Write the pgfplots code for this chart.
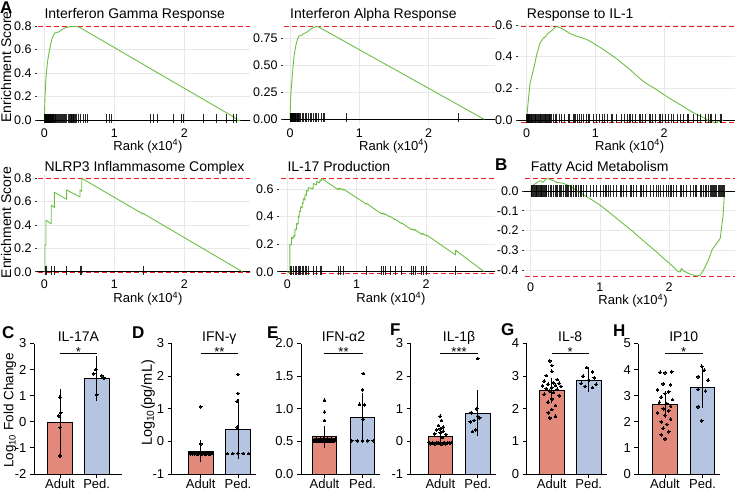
\documentclass[border=0pt]{standalone}
\usepackage{fontspec}
\setmainfont{Liberation Sans}
\usepackage{pgfplots}
\pgfplotsset{compat=1.18}

\definecolor{esgreen}{RGB}{108,190,69}
\definecolor{dashred}{RGB}{232,30,36}
\definecolor{gridc}{RGB}{232,232,232}
\definecolor{adultc}{RGB}{226,137,124}
\definecolor{pedc}{RGB}{181,196,224}

\pgfplotsset{
  gsea/.style={
    scale only axis, anchor=south west,
    axis line style={draw=none},
    grid=major, grid style={draw=gridc, line width=0.7pt},
    xtick={0,1,2}, xticklabels={0,1,2},
    xtick style={draw=none},
    ytick style={draw=black!80, line width=0.6pt},
    tick align=outside, major tick length=2pt,
    ytick pos=left, xtick pos=bottom,
    tick label style={font=\fontsize{12.5}{14}\selectfont},
    xticklabel style={inner sep=1.5pt},
    clip=true,
  },
  esline/.style={esgreen, line width=0.9pt, line join=round},
  hits/.style={only marks, mark=|, mark size=4.7pt, opacity=0.85, mark options={draw=black, line width=0.55pt, yshift=#1}},
  hits/.default=1.5pt,
  redd/.style={dashred, line width=0.9pt, dash pattern=on 5pt off 3pt},
  zline/.style={black, line width=0.9pt},
  bars/.style={
    scale only axis, anchor=south west,
    axis x line*=bottom, axis y line*=left,
    axis line style={line width=0.9pt, -},
    tick style={black, line width=0.9pt},
    tick align=outside, major tick length=4pt,
    xtick={0,1}, xticklabels={Adult,Ped.},
    tick label style={font=\fontsize{13}{15}\selectfont},
    xticklabel style={inner sep=1pt},
    clip=false, height=130.5pt,
  },
  abar/.style={fill=adultc, draw=black, line width=0.8pt},
  pbar/.style={fill=pedc, draw=black, line width=0.8pt},
  dots/.style={only marks, mark=*, mark size=1.35pt, mark options={fill=black, draw=black, line width=0pt}},
  ebar/.style={draw=none, mark=none, error bars/.cd, y dir=both, y explicit, error bar style={draw=black, line width=0.8pt}, error mark options={draw=black, line width=0.8pt, mark size=6pt}},
}
\newcommand{\sig}[2]{%
  \draw[line width=0.8pt] (axis cs:0,#1) -- (axis cs:1,#1);
  \node[font=\fontsize{13}{13}\selectfont, anchor=base, inner sep=0pt, yshift=-3pt] at (axis cs:0.5,#1) {#2};}

\begin{document}
\begin{tikzpicture}[x=1pt,y=1pt]
\useasboundingbox (0,0) rectangle (735,491);

% ---------- Panel A1: Interferon Gamma Response
\begin{axis}[gsea, at={(37pt,366pt)}, width=213pt, height=102pt,
  xmin=-0.104, xmax=2.939, ymin=-0.0426, ymax=0.8255,
  ytick={0,0.2,0.4,0.6,0.8}, yticklabels={0.0,0.2,0.4,0.6,0.8}]
\addplot[redd] coordinates {(-0.2,0.797) (3.1,0.797)};
\addplot[redd] coordinates {(-0.2,-0.008) (3.1,-0.008)};
\addplot[zline] coordinates {(-0.2,0) (3.1,0)};
\addplot[hits] coordinates {(0.003,0)(0.008,0)(0.012,0)(0.017,0)(0.021,0)(0.026,0)(0.03,0)(0.035,0)(0.04,0)(0.045,0)(0.05,0)(0.056,0)(0.062,0)(0.068,0)(0.074,0)(0.08,0)(0.087,0)(0.094,0)(0.101,0)(0.108,0)(0.115,0)(0.123,0)(0.131,0)(0.14,0)(0.15,0)(0.16,0)(0.172,0)(0.185,0)(0.2,0)(0.21,0)(0.225,0)(0.24,0)(0.255,0)(0.27,0)(0.29,0)(0.3,0)(0.32,0)(0.34,0)(0.36,0)(0.37,0)(0.38,0)(0.39,0)(0.4,0)(0.41,0)(0.42,0)(0.43,0)(0.44,0)(0.46,0)(0.49,0)(0.51,0)(0.55,0)(0.59,0)(0.62,0)(0.89,0)(0.93,0)(0.95,0)(1.52,0)(1.56,0)(1.61,0)(1.84,0)(1.96,0)(1.99,0)(2.27,0)(2.46,0)(2.6,0)(2.7,0)(2.74,0)};
\addplot[esline] coordinates {(0,0)(0.005,0.1)(0.01,0.2)(0.02,0.32)(0.03,0.4)(0.04,0.46)(0.05,0.51)(0.07,0.58)(0.09,0.64)(0.11,0.69)(0.13,0.72)(0.15,0.74)(0.18,0.745)(0.21,0.75)(0.24,0.765)(0.27,0.775)(0.3,0.785)(0.33,0.79)(0.36,0.793)(0.4,0.795)(0.44,0.797)(0.5,0.79)(1.0,0.617)(1.5,0.443)(2.0,0.27)(2.5,0.097)(2.7,0.028)(2.74,0.01)(2.77,-0.008)(2.8,0)};
\end{axis}

% ---------- Panel A2: Interferon Alpha Response
\begin{axis}[gsea, at={(283pt,366pt)}, width=212pt, height=102pt,
  xmin=-0.101, xmax=2.958, ymin=-0.0528, ymax=0.8917,
  ytick={0,0.25,0.5,0.75}, yticklabels={0.00,0.25,0.50,0.75}]
\addplot[redd] coordinates {(-0.2,0.86) (3.1,0.86)};
\addplot[redd] coordinates {(-0.2,-0.003) (3.1,-0.003)};
\addplot[zline] coordinates {(-0.2,0) (3.1,0)};
\addplot[hits] coordinates {(0.003,0)(0.008,0)(0.013,0)(0.018,0)(0.023,0)(0.028,0)(0.033,0)(0.038,0)(0.044,0)(0.05,0)(0.056,0)(0.062,0)(0.069,0)(0.076,0)(0.083,0)(0.09,0)(0.098,0)(0.106,0)(0.115,0)(0.125,0)(0.135,0)(0.145,0)(0.17,0)(0.19,0)(0.22,0)(0.24,0)(0.26,0)(0.29,0)(0.31,0)(0.34,0)(0.36,0)(0.38,0)(0.41,0)(0.45,0)(0.48,0)(0.5,0)(0.81,0)(2.43,0)};
\addplot[esline] coordinates {(0,0)(0.005,0.1)(0.01,0.2)(0.02,0.3)(0.03,0.38)(0.045,0.5)(0.06,0.59)(0.075,0.65)(0.09,0.7)(0.11,0.745)(0.13,0.77)(0.15,0.775)(0.17,0.78)(0.19,0.79)(0.22,0.8)(0.25,0.81)(0.28,0.825)(0.31,0.84)(0.34,0.85)(0.37,0.858)(0.4,0.86)(0.5,0.824)(0.81,0.713)(1.5,0.466)(2.0,0.287)(2.43,0.133)(2.6,0.072)(2.8,0)};
\end{axis}

% ---------- Panel A3: Response to IL-1
\begin{axis}[gsea, at={(518pt,366pt)}, width=217pt, height=102pt,
  xmin=-0.1266, xmax=3.032, ymin=-0.0316, ymax=0.6127,
  ytick={0,0.2,0.4,0.6}, yticklabels={0.0,0.2,0.4,0.6}]
\addplot[redd] coordinates {(-0.2,0.59) (3.1,0.59)};
\addplot[redd] coordinates {(-0.2,-0.017) (3.1,-0.017)};
\addplot[zline] coordinates {(-0.2,0) (3.1,0)};
\addplot[hits] coordinates {(0,0)(0.005,0)(0.01,0)(0.014,0)(0.02,0)(0.029,0)(0.035,0)(0.043,0)(0.05,0)(0.06,0)(0.072,0)(0.085,0)(0.096,0)(0.105,0)(0.12,0)(0.13,0)(0.144,0)(0.155,0)(0.168,0)(0.18,0)(0.192,0)(0.2,0)(0.207,0)(0.226,0)(0.24,0)(0.25,0)(0.264,0)(0.275,0)(0.288,0)(0.3,0)(0.313,0)(0.327,0)(0.335,0)(0.346,0)(0.361,0)(0.385,0)(0.409,0)(0.433,0)(0.481,0)(0.505,0)(0.553,0)(0.601,0)(0.625,0)(0.673,0)(0.697,0)(0.712,0)(0.731,0)(0.769,0)(0.793,0)(0.817,0)(0.865,0)(0.889,0)(0.913,0)(0.962,0)(1.01,0)(1.058,0)(1.106,0)(1.13,0)(1.178,0)(1.226,0)(1.25,0)(1.298,0)(1.37,0)(1.418,0)(1.466,0)(1.49,0)(1.514,0)(1.538,0)(1.587,0)(1.635,0)(1.659,0)(1.683,0)(1.731,0)(1.779,0)(1.803,0)(1.827,0)(1.875,0)(1.923,0)(1.947,0)(1.971,0)(2.019,0)(2.067,0)(2.106,0)(2.139,0)(2.188,0)(2.236,0)(2.284,0)(2.332,0)(2.356,0)(2.428,0)(2.476,0)(2.524,0)(2.596,0)(2.644,0)(2.668,0)(2.683,0)(2.74,0)(2.813,0)(2.837,0)};
\addplot[esline] coordinates {(0,0)(0.01,0.06)(0.024,0.126)(0.048,0.23)(0.07,0.27)(0.096,0.316)(0.12,0.36)(0.144,0.41)(0.17,0.45)(0.19,0.484)(0.215,0.5)(0.24,0.516)(0.27,0.525)(0.31,0.547)(0.35,0.56)(0.385,0.573)(0.43,0.59)(0.47,0.585)(0.5,0.58)(0.56,0.565)(0.625,0.547)(0.72,0.53)(0.8,0.52)(0.865,0.51)(0.94,0.493)(1.01,0.474)(1.1,0.45)(1.2,0.42)(1.3,0.39)(1.39,0.358)(1.5,0.32)(1.59,0.284)(1.68,0.25)(1.78,0.22)(1.88,0.195)(1.97,0.168)(2.06,0.142)(2.16,0.116)(2.26,0.09)(2.36,0.063)(2.45,0.04)(2.55,0.021)(2.64,-0.004)(2.74,-0.017)(2.8,-0.01)(2.86,0)};
\end{axis}

% ---------- Panel A4: NLRP3 Inflammasome Complex
\begin{axis}[gsea, at={(37pt,215pt)}, width=213pt, height=102pt,
  xmin=-0.104, xmax=2.939, ymin=-0.0368, ymax=0.837,
  ytick={0,0.2,0.4,0.6,0.8}, yticklabels={0.0,0.2,0.4,0.6,0.8}]
\addplot[redd] coordinates {(-0.2,0.80) (3.1,0.80)};
\addplot[redd] coordinates {(-0.2,-0.006) (3.1,-0.006)};
\addplot[zline] coordinates {(-0.2,0) (3.1,0)};
\addplot[hits] coordinates {(0.01,0)(0.025,0)(0.1,0)(0.145,0)(0.32,0)(0.51,0)(0.535,0)(1.41,0)};
\addplot[esline] coordinates {(0,0)(0.01,0)(0.01,0.23)(0.025,0.23)(0.025,0.44)(0.1,0.41)(0.1,0.57)(0.145,0.55)(0.145,0.68)(0.32,0.62)(0.32,0.70)(0.51,0.64)(0.51,0.70)(0.535,0.69)(0.535,0.80)(1.41,0.494)(1.41,0.50)(2.83,0)};
\end{axis}

% ---------- Panel A5: IL-17 Production
\begin{axis}[gsea, at={(279pt,215pt)}, width=216pt, height=102pt,
  xmin=-0.1197, xmax=2.995, ymin=-0.0312, ymax=0.709,
  ytick={0,0.2,0.4,0.6}, yticklabels={0.0,0.2,0.4,0.6}]
\addplot[redd] coordinates {(-0.2,0.677) (3.1,0.677)};
\addplot[redd] coordinates {(-0.2,-0.012) (3.1,-0.012)};
\addplot[zline] coordinates {(-0.2,0) (3.1,0)};
\addplot[hits] coordinates {(0.038,0)(0.063,0)(0.087,0)(0.111,0)(0.135,0)(0.159,0)(0.173,0)(0.192,0)(0.216,0)(0.231,0)(0.255,0)(0.279,0)(0.303,0)(0.375,0)(0.423,0)(0.471,0)(0.495,0)(0.736,0)(0.76,0)(0.808,0)(1.144,0)(1.361,0)(1.385,0)(1.409,0)(1.481,0)(1.553,0)(1.649,0)(1.793,0)(1.817,0)(1.841,0)(1.938,0)(1.962,0)(2.01,0)(2.428,0)};
\addplot[esline] coordinates {(0,0)(0.035,-0.01)(0.038,0.2)(0.06,0.195)(0.063,0.25)(0.085,0.24)(0.087,0.26)(0.108,0.255)(0.111,0.31)(0.133,0.305)(0.135,0.35)(0.157,0.345)(0.159,0.40)(0.17,0.395)(0.173,0.44)(0.19,0.435)(0.192,0.47)(0.214,0.465)(0.216,0.5)(0.229,0.495)(0.231,0.53)(0.253,0.52)(0.255,0.56)(0.277,0.555)(0.279,0.59)(0.30,0.585)(0.303,0.61)(0.372,0.6)(0.375,0.64)(0.42,0.63)(0.423,0.655)(0.468,0.645)(0.471,0.665)(0.492,0.66)(0.495,0.677)(0.733,0.595)(0.736,0.605)(0.757,0.598)(0.76,0.607)(0.805,0.592)(0.808,0.60)(1.141,0.49)(1.144,0.495)(1.358,0.42)(1.361,0.425)(1.382,0.418)(1.385,0.423)(1.406,0.416)(1.409,0.42)(1.478,0.398)(1.481,0.402)(1.55,0.378)(1.553,0.382)(1.646,0.35)(1.649,0.354)(1.79,0.305)(1.793,0.31)(1.814,0.303)(1.817,0.308)(1.838,0.3)(1.841,0.305)(1.935,0.272)(1.938,0.278)(1.959,0.27)(1.962,0.276)(2.007,0.26)(2.01,0.266)(2.425,0.122)(2.428,0.155)(2.84,0)};
\end{axis}

% ---------- Panel B: Fatty Acid Metabolism
\begin{axis}[gsea, at={(524pt,211pt)}, width=211pt, height=106pt,
  xmin=-0.0969, xmax=2.954, ymin=-0.4506, ymax=0.0861,
  ytick={-0.4,-0.3,-0.2,-0.1,0}, yticklabels={-0.4,-0.3,-0.2,-0.1,0.0},
  xticklabel style={inner sep=0.5pt}]
\addplot[redd] coordinates {(-0.2,0.064) (3.1,0.064)};
\addplot[redd] coordinates {(-0.2,-0.432) (3.1,-0.432)};
\addplot[zline] coordinates {(-0.2,0) (3.1,0)};
\addplot[hits=0pt, mark size=6pt] coordinates {(0.005,0)(0.014,0)(0.029,0)(0.039,0)(0.053,0)(0.063,0)(0.077,0)(0.087,0)(0.101,0)(0.111,0)(0.125,0)(0.135,0)(0.149,0)(0.159,0)(0.173,0)(0.183,0)(0.198,0)(0.207,0)(0.222,0)(0.231,0)(0.255,0)(0.28,0)(0.304,0)(0.328,0)(0.352,0)(0.376,0)(0.39,0)(0.414,0)(0.434,0)(0.448,0)(0.472,0)(0.496,0)(0.511,0)(0.53,0)(0.545,0)(0.569,0)(0.593,0)(0.617,0)(0.641,0)(0.665,0)(0.689,0)(0.713,0)(0.737,0)(0.761,0)(0.81,0)(0.858,0)(0.906,0)(0.954,0)(1.002,0)(1.051,0)(1.075,0)(1.099,0)(1.123,0)(1.147,0)(1.195,0)(1.243,0)(1.292,0)(1.316,0)(1.34,0)(1.388,0)(1.436,0)(1.46,0)(1.484,0)(1.533,0)(1.581,0)(1.605,0)(1.629,0)(1.677,0)(1.725,0)(1.773,0)(1.822,0)(1.846,0)(1.87,0)(1.918,0)(1.966,0)(1.99,0)(2.014,0)(2.039,0)(2.063,0)(2.111,0)(2.159,0)(2.183,0)(2.207,0)(2.255,0)(2.304,0)(2.352,0)(2.376,0)(2.4,0)(2.448,0)(2.472,0)(2.496,0)(2.52,0)(2.545,0)(2.569,0)(2.593,0)(2.607,0)(2.622,0)(2.636,0)(2.655,0)(2.67,0)(2.689,0)(2.708,0)(2.728,0)(2.747,0)(2.761,0)(2.776,0)(2.786,0)(2.8,0)};
\addplot[esline] coordinates {(0,0)(0.02,0.02)(0.039,0.03)(0.087,0.042)(0.135,0.052)(0.18,0.044)(0.23,0.064)(0.28,0.059)(0.33,0.052)(0.376,0.044)(0.47,0.039)(0.57,0.025)(0.665,0.002)(0.74,-0.014)(0.81,-0.029)(0.9,-0.048)(1.0,-0.071)(1.12,-0.104)(1.24,-0.138)(1.36,-0.172)(1.48,-0.206)(1.6,-0.243)(1.73,-0.282)(1.83,-0.312)(1.92,-0.341)(2.0,-0.365)(2.06,-0.383)(2.13,-0.408)(2.16,-0.41)(2.18,-0.392)(2.21,-0.405)(2.26,-0.413)(2.3,-0.42)(2.35,-0.425)(2.4,-0.43)(2.45,-0.427)(2.5,-0.40)(2.54,-0.37)(2.57,-0.349)(2.6,-0.32)(2.62,-0.299)(2.66,-0.28)(2.69,-0.265)(2.72,-0.25)(2.74,-0.24)(2.755,-0.2)(2.765,-0.17)(2.78,-0.13)(2.79,-0.08)(2.80,-0.012)(2.81,0)};
\end{axis}

% ---------- Panel C: IL-17A
\begin{axis}[bars, at={(34pt,17pt)}, width=87.6pt, xmin=-0.708, xmax=1.68, ymin=-2, ymax=3,
  ytick={-2,-1,0,1,2,3}, yticklabels={-2,-1,0,1,2,3}]
\addplot[abar] coordinates {(-0.34,-2) (-0.34,-0.01) (0.34,-0.01) (0.34,-2)} -- cycle;
\addplot[pbar] coordinates {(0.66,-2) (0.66,1.65) (1.34,1.65) (1.34,-2)} -- cycle;
\addplot[dots] coordinates {(0,0.94)(0.02,0.35)(-0.03,0.23)(0.01,-0.21)(0,-1.31)(0.98,2.0)(0.92,1.84)(1.14,1.76)(1.2,1.68)(1,1.04)};
\addplot[ebar] coordinates {(0,-0.01) +- (0,1.04) (1,1.65) +- (0,0.63)};
\sig{2.605}{*}
\end{axis}

% ---------- Panel D: IFN-gamma
\begin{axis}[bars, at={(171.7pt,17pt)}, width=84.3pt, xmin=-0.777, xmax=1.483, ymin=-1, ymax=3,
  ytick={-1,0,1,2,3}, yticklabels={-1,0,1,2,3}]
\addplot[abar] coordinates {(-0.33,-1) (-0.33,-0.30) (0.33,-0.30) (0.33,-1)} -- cycle;
\addplot[pbar] coordinates {(0.67,-1) (0.67,0.37) (1.33,0.37) (1.33,-1)} -- cycle;
\addplot[dots] coordinates {(0,1.06)(0,-0.08)(-0.30,-0.35)(-0.27,-0.38)(-0.245,-0.36)(-0.22,-0.39)(-0.19,-0.35)(-0.165,-0.38)(-0.14,-0.36)(-0.11,-0.39)(-0.085,-0.35)(-0.055,-0.38)(-0.03,-0.36)(0,-0.39)(0.03,-0.35)(0.055,-0.38)(0.085,-0.36)(0.11,-0.39)(0.14,-0.35)(0.165,-0.38)(0.19,-0.36)(0.22,-0.39)(0.245,-0.35)(0.27,-0.38)(0.30,-0.36)(1,2.05)(1,1.47)(0.98,1.23)(0.98,0.44)(0.72,-0.37)(0.86,-0.37)(1,-0.37)(1.14,-0.37)(1.28,-0.37)};
\addplot[ebar] coordinates {(0,-0.30) +- (0,0.15) (1,0.37) +- (0,0.73)};
\sig{2.684}{**}
\end{axis}

% ---------- Panel E: IFN-alpha2
\begin{axis}[bars, at={(301pt,17pt)}, width=78.5pt, xmin=-0.618, xmax=1.447, ymin=0, ymax=2,
  ytick={0,0.5,1,1.5,2}, yticklabels={0.0,0.5,1.0,1.5,2.0}]
\addplot[abar] coordinates {(-0.32,0) (-0.32,0.57) (0.32,0.57) (0.32,0)} -- cycle;
\addplot[pbar] coordinates {(0.68,0) (0.68,0.86) (1.32,0.86) (1.32,0)} -- cycle;
\addplot[dots] coordinates {(0,1.13)(0,0.95)(0,0.82)(-0.29,0.50)(-0.265,0.53)(-0.24,0.51)(-0.215,0.54)(-0.19,0.50)(-0.165,0.53)(-0.14,0.51)(-0.115,0.54)(-0.09,0.50)(-0.065,0.53)(-0.04,0.51)(-0.015,0.54)(0.01,0.50)(0.035,0.53)(0.06,0.51)(0.085,0.54)(0.11,0.50)(0.135,0.53)(0.16,0.51)(0.185,0.54)(0.21,0.50)(0.235,0.53)(0.26,0.51)(0.285,0.54)(1.02,1.54)(1,1.29)(0.92,1.07)(1.05,1.06)(1.02,0.84)(0.72,0.51)(0.86,0.51)(1,0.51)(1.14,0.51)(1.28,0.51)};
\addplot[ebar] coordinates {(0,0.57) +- (0,0.075) (1,0.86) +- (0,0.295)};
\sig{1.842}{**}
\end{axis}

% ---------- Panel F: IL-1beta
\begin{axis}[bars, at={(410.7pt,17pt)}, width=85.1pt, xmin=-0.79, xmax=1.48, ymin=-1, ymax=3,
  ytick={-1,0,1,2,3}, yticklabels={-1,0,1,2,3}]
\addplot[abar] coordinates {(-0.33,-1) (-0.33,0.15) (0.33,0.15) (0.33,-1)} -- cycle;
\addplot[pbar] coordinates {(0.67,-1) (0.67,0.87) (1.33,0.87) (1.33,-1)} -- cycle;
\addplot[dots] coordinates {(0,0.77)(0.03,0.64)(-0.05,0.49)(0.08,0.44)(0,0.38)(-0.1,0.35)(0.08,0.31)(0,0.26)(-0.15,0.23)(0.15,0.21)(0.05,0.12)(-0.3,-0.03)(-0.25,-0.07)(-0.2,-0.04)(-0.15,-0.08)(-0.1,-0.03)(-0.05,-0.06)(0,-0.04)(0.05,-0.08)(0.1,-0.03)(0.15,-0.07)(0.2,-0.04)(0.25,-0.06)(0.3,-0.03)(1,2.54)(0.97,1.0)(0.82,0.88)(1,0.77)(1.05,0.72)(0.9,0.64)(0.8,0.60)(0.94,0.35)(0.86,0.30)};
\addplot[ebar] coordinates {(0,0.15) +- (0,0.10) (1,0.87) +- (0,0.53)};
\sig{2.684}{***}
\end{axis}

% ---------- Panel G: IL-8
\begin{axis}[bars, at={(526.7pt,17pt)}, width=80pt, xmin=-0.676, xmax=1.486, ymin=0, ymax=4,
  ytick={0,1,2,3,4}, yticklabels={0,1,2,3,4}]
\addplot[abar] coordinates {(-0.33,0) (-0.33,2.57) (0.33,2.57) (0.33,0)} -- cycle;
\addplot[pbar] coordinates {(0.67,0) (0.67,2.88) (1.33,2.88) (1.33,0)} -- cycle;
\addplot[dots] coordinates {(-0.05,3.47)(0.0,3.33)(0.0,3.15)(-0.15,3.02)(0.15,2.90)(-0.2,2.85)(0.05,2.80)(0.2,2.78)(-0.1,2.75)(0.1,2.72)(-0.25,2.70)(0.25,2.68)(0,2.65)(-0.15,2.62)(0.15,2.60)(-0.05,2.55)(0.05,2.50)(-0.2,2.45)(0.2,2.40)(0,2.30)(-0.1,2.20)(0.1,2.10)(0,1.98)(-0.1,1.88)(0.1,1.77)(-0.05,1.72)(0.95,3.26)(1.1,3.13)(0.85,3.0)(1.15,2.95)(1,2.88)(0.8,2.78)(1.2,2.75)(0.9,2.68)(1.1,2.65)};
\addplot[ebar] coordinates {(0,2.57) +- (0,0.2) (1,2.88) +- (0,0.17)};
\sig{3.684}{*}
\end{axis}

% ---------- Panel H: IP10
\begin{axis}[bars, at={(638.3pt,17pt)}, width=81.7pt, xmin=-0.712, xmax=1.467, ymin=0, ymax=5,
  ytick={0,1,2,3,4,5}, yticklabels={0,1,2,3,4,5}]
\addplot[abar] coordinates {(-0.33,0) (-0.33,2.67) (0.33,2.67) (0.33,0)} -- cycle;
\addplot[pbar] coordinates {(0.67,0) (0.67,3.31) (1.33,3.31) (1.33,0)} -- cycle;
\addplot[dots] coordinates {(-0.13,3.9)(0.0,3.88)(0.18,3.92)(-0.05,3.45)(0.15,3.42)(-0.2,3.22)(0.1,3.15)(0,3.08)(-0.1,2.95)(0.2,2.85)(-0.15,2.75)(0.05,2.70)(0.15,2.60)(-0.05,2.50)(0.1,2.42)(-0.2,2.35)(0,2.25)(0.15,2.10)(-0.1,2.0)(0.05,1.90)(-0.05,1.75)(0.1,1.62)(-0.1,1.50)(0,1.35)(0.98,4.13)(1.05,3.98)(0.88,3.73)(1.15,3.60)(0.88,3.24)(1.08,3.18)(0.88,2.58)(0.98,2.04)};
\addplot[ebar] coordinates {(0,2.67) +- (0,0.28) (1,3.31) +- (0,0.54)};
\sig{4.605}{*}
\end{axis}

% ---------- Text: panel letters
\begin{scope}[every node/.style={anchor=base west, inner sep=0pt, font=\bfseries\fontsize{17}{17}\selectfont}]
\node at (0,477.5) {A};
\node at (495,320.5) {B};
\node at (2,153) {C};
\node at (132,153) {D};
\node at (267,153) {E};
\node at (390,156) {F};
\node at (501,156) {G};
\node at (613,154.5) {H};
\end{scope}

% ---------- Titles of GSEA panels
\begin{scope}[every node/.style={anchor=base west, inner sep=0pt, font=\fontsize{14}{14}\selectfont}]
\node at (44.3,472) {Interferon Gamma Response};
\node at (290,472) {Interferon Alpha Response};
\node at (526.7,472) {Response to IL-1};
\node at (44.3,320) {NLRP3 Inflammasome Complex};
\node at (287.3,320) {IL-17 Production};
\node at (530.7,320) {Fatty Acid Metabolism};
\end{scope}

% ---------- Rank labels
\begin{scope}[every node/.style={anchor=base, inner sep=0pt, font=\fontsize{13}{13}\selectfont}]
\node at (148,341) {Rank (x10\textsuperscript{4})};
\node at (393.7,341) {Rank (x10\textsuperscript{4})};
\node at (629.7,341) {Rank (x10\textsuperscript{4})};
\node at (148,188.5) {Rank (x10\textsuperscript{4})};
\node at (391,188.5) {Rank (x10\textsuperscript{4})};
\node at (633,186.5) {Rank (x10\textsuperscript{4})};
\end{scope}

% ---------- Enrichment score labels
\node[rotate=90, inner sep=0pt, font=\fontsize{14}{14}\selectfont] at (6,424) {Enrichment Score};
\node[rotate=90, inner sep=0pt, font=\fontsize{14}{14}\selectfont] at (6,268.5) {Enrichment Score};

% ---------- Bottom titles
\begin{scope}[every node/.style={anchor=base, inner sep=0pt, font=\fontsize{14}{14}\selectfont}]
\node at (78.4,150) {IL-17A};
\node at (219.3,150) {IFN-γ};
\node at (343.5,150) {IFN-α2};
\node at (459,150) {IL-1β};
\node at (570.2,150) {IL-8};
\node at (683.7,150) {IP10};
\end{scope}

% ---------- Bottom y labels
\node[rotate=90, inner sep=0pt, font=\fontsize{13.5}{13.5}\selectfont] at (10,80.5) {Log\textsubscript{10} Fold Change};
\node[rotate=90, inner sep=0pt, font=\fontsize{14.5}{14.5}\selectfont] at (148,88) {Log\textsubscript{10}(pg/mL)};
\end{tikzpicture}
\end{document}
